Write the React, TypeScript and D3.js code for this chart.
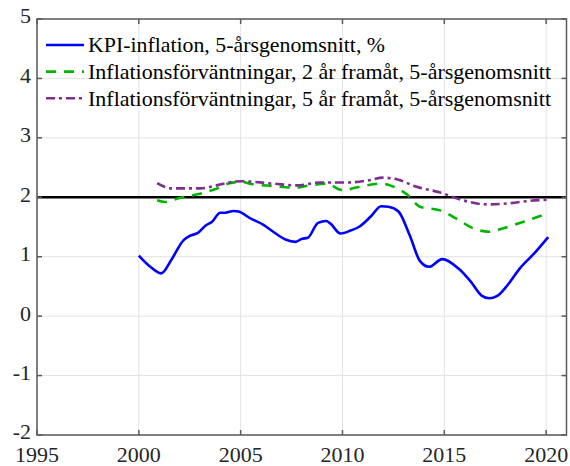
import React, { useEffect, useRef } from 'react';
import * as d3 from 'd3';

// KPI-inflation, 5-årsgenomsnitt
const kpiYears = [2000, 2000.5, 2001.1, 2001.6, 2002.2, 2002.5, 2002.9, 2003.3, 2003.6, 2004.0, 2004.25, 2004.65, 2004.9, 2005.5, 2006.1, 2006.6, 2007.2, 2007.7, 2008.0, 2008.3, 2008.8, 2009.2, 2009.4, 2009.9, 2010.4, 2010.8, 2011.4, 2011.9, 2012.25, 2012.75, 2013.3, 2013.8, 2014.25, 2014.9, 2015.7, 2016.3, 2016.85, 2017.2, 2017.6, 2018.1, 2018.7, 2019.4, 2020.1];
const kpiValues = [1.02, 0.85, 0.72, 0.95, 1.28, 1.35, 1.4, 1.53, 1.59, 1.74, 1.74, 1.77, 1.76, 1.64, 1.54, 1.42, 1.29, 1.25, 1.3, 1.32, 1.57, 1.6, 1.56, 1.39, 1.44, 1.5, 1.68, 1.85, 1.84, 1.76, 1.36, 0.93, 0.83, 0.96, 0.8, 0.58, 0.34, 0.3, 0.34, 0.52, 0.8, 1.05, 1.33];

// Inflationsförväntningar, 2 år framåt
const exp2Years = [2000.9, 2001.3, 2001.9, 2003.0, 2003.7, 2004.4, 2005.0, 2005.6, 2006.6, 2007.6, 2008.4, 2009.2, 2010.0, 2011.0, 2011.9, 2012.5, 2013.2, 2013.8, 2014.8, 2015.6, 2016.4, 2017.2, 2017.9, 2018.9, 2020.1];
const exp2Values = [1.95, 1.92, 1.98, 2.06, 2.13, 2.23, 2.26, 2.22, 2.19, 2.16, 2.2, 2.23, 2.12, 2.19, 2.23, 2.18, 2.04, 1.84, 1.78, 1.64, 1.48, 1.42, 1.48, 1.59, 1.73];

// Inflationsförväntningar, 5 år framåt
const exp5Years = [2000.9, 2001.6, 2003.0, 2003.7, 2004.3, 2005.0, 2006.6, 2007.75, 2008.9, 2010.3, 2011.2, 2012.0, 2012.7, 2013.6, 2014.8, 2015.9, 2017.1, 2018.2, 2019.2, 2020.1];
const exp5Values = [2.24, 2.15, 2.15, 2.19, 2.24, 2.27, 2.23, 2.2, 2.25, 2.25, 2.28, 2.33, 2.3, 2.18, 2.08, 1.95, 1.88, 1.9, 1.94, 1.96];

const xTicks = [1995, 2000, 2005, 2010, 2015, 2020];
const yTicks = [-2, -1, 0, 1, 2, 3, 4, 5];
const target = 2;

const legendLabels = [
  'KPI-inflation, 5-årsgenomsnitt, %',
  'Inflationsförväntningar, 2 år framåt, 5-årsgenomsnitt',
  'Inflationsförväntningar, 5 år framåt, 5-årsgenomsnitt',
];

const App = () => {
  const ref = useRef<SVGSVGElement>(null);

  useEffect(() => {
    const width = 570;
    const height = 466;
    const left = 37, right = 566.5, top = 19, bottom = 435;
    const font = 'Liberation Serif, Times New Roman, Times, DejaVu Serif, serif';
    const legendWidths = [297, 463, 463];

    const svg = d3.select(ref.current);
    svg.selectAll('*').remove();
    svg.attr('width', width).attr('height', height);

    const x = d3.scaleLinear().domain([1995, 2021]).range([left, right]);
    const y = d3.scaleLinear().domain([-2, 5]).range([bottom, top]);

    // grid
    const grid = svg.append('g').attr('stroke', '#e3e3e3').attr('stroke-width', 1);
    xTicks.forEach((t) => {
      grid.append('line').attr('x1', x(t)).attr('x2', x(t)).attr('y1', top).attr('y2', bottom);
    });
    yTicks.forEach((t) => {
      grid.append('line').attr('x1', left).attr('x2', right).attr('y1', y(t)).attr('y2', y(t));
    });

    // target line
    svg.append('line')
      .attr('x1', left).attr('x2', right)
      .attr('y1', y(target)).attr('y2', y(target))
      .attr('stroke', '#000').attr('stroke-width', 2.5);

    const line = d3.line<[number, number]>()
      .x((d) => x(d[0]))
      .y((d) => y(d[1]))
      .curve(d3.curveMonotoneX);

    const series = [
      { years: kpiYears, values: kpiValues, color: '#0000ff', dash: null },
      { years: exp2Years, values: exp2Values, color: '#00b400', dash: '10,8' },
      { years: exp5Years, values: exp5Values, color: '#7e2f8e', dash: '9,4,3,4' },
    ];

    series.forEach((s) => {
      const pts = s.years.map((yr, i) => [yr, s.values[i]] as [number, number]);
      svg.append('path')
        .attr('d', line(pts))
        .attr('fill', 'none')
        .attr('stroke', s.color)
        .attr('stroke-width', 2.6)
        .attr('stroke-dasharray', s.dash);
    });

    // axes box
    const axis = svg.append('g').attr('stroke', '#5a5a5a').attr('stroke-width', 1.5).attr('fill', 'none');
    axis.append('rect').attr('x', left).attr('y', top).attr('width', right - left).attr('height', bottom - top);
    xTicks.forEach((t) => {
      axis.append('line').attr('x1', x(t)).attr('x2', x(t)).attr('y1', bottom).attr('y2', bottom - 5);
      axis.append('line').attr('x1', x(t)).attr('x2', x(t)).attr('y1', top).attr('y2', top + 5);
    });
    yTicks.forEach((t) => {
      axis.append('line').attr('x1', left).attr('x2', left + 5).attr('y1', y(t)).attr('y2', y(t));
      axis.append('line').attr('x1', right).attr('x2', right - 5).attr('y1', y(t)).attr('y2', y(t));
    });

    // tick labels
    svg.append('g').selectAll('text').data(xTicks).enter().append('text')
      .attr('x', (d) => x(d))
      .attr('y', 462)
      .attr('text-anchor', 'middle')
      .attr('font-family', font)
      .attr('font-size', 22)
      .attr('fill', '#262626')
      .text((d) => d);

    svg.append('g').selectAll('text').data(yTicks).enter().append('text')
      .attr('x', 31)
      .attr('y', (d) => y(d))
      .attr('dy', '0.2em')
      .attr('text-anchor', 'end')
      .attr('font-family', font)
      .attr('font-size', 22)
      .attr('fill', '#262626')
      .text((d) => d);

    // legend
    const legend = svg.append('g');
    series.forEach((s, i) => {
      const ly = 45 + i * 26.6;
      legend.append('line')
        .attr('x1', 46).attr('x2', 84)
        .attr('y1', ly).attr('y2', ly)
        .attr('stroke', s.color)
        .attr('stroke-width', 2.6)
        .attr('stroke-dasharray', s.dash);
      legend.append('text')
        .attr('x', 88)
        .attr('y', ly)
        .attr('dy', '0.35em')
        .attr('font-family', font)
        .attr('font-size', 21)
        .attr('textLength', legendWidths[i])
        .attr('lengthAdjust', 'spacingAndGlyphs')
        .attr('fill', '#000')
        .text(legendLabels[i]);
    });
  }, []);

  return <svg ref={ref} style={{ position: 'absolute', left: 0, top: 0 }} />;
};

export default App;
